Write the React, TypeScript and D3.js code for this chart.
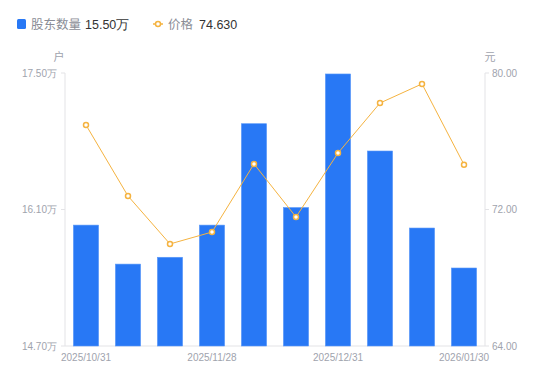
import React from "react";
import * as d3 from "d3";

const dates = ["2025/10/31","2025/11/10","2025/11/20","2025/11/28","2025/12/10","2025/12/19","2025/12/31","2026/01/09","2026/01/20","2026/01/30"];
const holders = [15.94, 15.54, 15.61, 15.94, 16.98, 16.12, 17.49, 16.70, 15.91, 15.50];
const prices = [76.95, 72.79, 69.98, 70.68, 74.67, 71.56, 75.31, 78.24, 79.36, 74.63];
const leftTicks = [14.7, 16.1, 17.5];
const rightTicks = [64, 72, 80];
const shownDates = ["2025/10/31","2025/11/28","2025/12/31","2026/01/30"];

export default function App() {
  const W = 550, H = 381;
  const L = 65, R = 485, T = 73, B = 346;
  const x = d3.scaleBand<string>().domain(dates).range([L, R]).paddingInner(0.4).paddingOuter(0.2);
  const xc = d3.scaleBand<string>().domain(dates).range([L, R]);
  const yl = d3.scaleLinear().domain([14.7, 17.5]).range([B, T]);
  const yr = d3.scaleLinear().domain([64, 80]).range([B, T]);
  const line = d3.line<number>().x((_, i) => xc(dates[i])! + xc.bandwidth() / 2).y(d => yr(d));
  const grey = "#a0a3ad";
  const font = "Liberation Sans, Arial, sans-serif";
  return (
    <svg width={W} height={H} style={{ position: "absolute", left: 0, top: 0 }} fontFamily={font}>
      <rect width={W} height={H} fill="#fff" />
      {/* legend */}
      <rect x={17} y={19} width={9} height={10} rx={1.5} fill="#2878f5" />
      <text x={31} y={29} fontSize={12.5} fill="#8a8d96" fontFamily="Noto Sans CJK SC, sans-serif">股东数量</text>
      <text x={85} y={29} fontSize={12.5} fill="#333">15.50万</text>
      <line x1={153} x2={163} y1={24} y2={24} stroke="#f5b340" strokeWidth={1.5} />
      <circle cx={158} cy={24} r={2.5} fill="#fff" stroke="#f5b340" strokeWidth={1.5} />
      <text x={168} y={29} fontSize={12.5} fill="#8a8d96" fontFamily="Noto Sans CJK SC, sans-serif">价格</text>
      <text x={199} y={29} fontSize={12.5} fill="#333">74.630</text>
      {/* unit labels */}
      <text x={59} y={61} fontSize={11} fill={grey} textAnchor="middle" fontFamily="Noto Sans CJK SC, sans-serif">户</text>
      <text x={490} y={61} fontSize={11} fill={grey} textAnchor="middle" fontFamily="Noto Sans CJK SC, sans-serif">元</text>
      {/* axes */}
      <line x1={L} x2={L} y1={T} y2={B} stroke="#e3e3e6" />
      <line x1={R} x2={R} y1={T} y2={B} stroke="#e3e3e6" />
      <line x1={L} x2={R} y1={B} y2={B} stroke="#e3e3e6" />
      {leftTicks.map(t => (
        <g key={"l" + t}>
          <line x1={L - 4} x2={L} y1={yl(t)} y2={yl(t)} stroke="#e3e3e6" />
          <text x={57} y={yl(t) + 3.5} fontSize={10} fill={grey} textAnchor="end">{t.toFixed(2)}万</text>
        </g>
      ))}
      {rightTicks.map(t => (
        <g key={"r" + t}>
          <line x1={R} x2={R + 4} y1={yr(t)} y2={yr(t)} stroke="#e3e3e6" />
          <text x={492} y={yr(t) + 3.5} fontSize={10} fill={grey}>{t.toFixed(2)}</text>
        </g>
      ))}
      {shownDates.map(d => (
        <text key={d} x={xc(d)! + xc.bandwidth() / 2} y={361} fontSize={10} fill={grey} textAnchor="middle">{d}</text>
      ))}
      {/* bars */}
      {holders.map((v, i) => (
        <rect key={i} x={x(dates[i])!} y={yl(v)} width={x.bandwidth()} height={B - yl(v)} fill="#2878f5" stroke="#5a98f8" strokeWidth={0.6} />
      ))}
      {/* line */}
      <path d={line(prices)!} fill="none" stroke="#f5b340" strokeWidth={1} />
      {prices.map((p, i) => (
        <circle key={i} cx={xc(dates[i])! + xc.bandwidth() / 2} cy={yr(p)} r={2.5} fill="#fff" stroke="#f5b340" strokeWidth={1.5} />
      ))}
    </svg>
  );
}
